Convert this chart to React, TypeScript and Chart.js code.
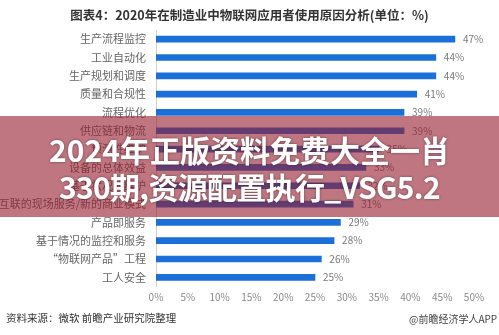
import React, { useEffect, useRef } from "react";
import { Chart, registerables } from "chart.js";

Chart.register(...registerables);

const categories = [
  "生产流程监控",
  "工业自动化",
  "生产规划和调度",
  "质量和合规性",
  "流程优化",
  "供应链和物流",
  "预测性维护",
  "设备的总体效益",
  "基于状况的维护",
  "互联的现场服务/新的商业模式",
  "产品即服务",
  "基于情况的监控和服务",
  "“物联网产品”工程",
  "工人安全",
];
const values = [47, 44, 44, 41, 39, 39, 35, 33, 32, 31, 29, 28, 26, 25];
const xTicks = [0, 5, 10, 15, 20, 25, 30, 35, 40, 45, 50];

const titleText = "图表4：2020年在制造业中物联网应用者使用原因分析(单位：%)";
const sourceText = "资料来源：微软 前瞻产业研究院整理";
const creditText = "@前瞻经济学人APP";
const bannerLine1 = "2024年正版资料免费大全一肖";
const bannerLine2 = "330期,资源配置执行_VSG5.2";

const FONT = "'Noto Sans CJK SC', 'Noto Sans', sans-serif";

const valueLabelPlugin = {
  id: "valueLabels",
  afterDatasetsDraw(chart: any) {
    const ctx = chart.ctx;
    const meta = chart.getDatasetMeta(0);
    ctx.save();
    ctx.font = `10px ${FONT}`;
    ctx.fillStyle = "#7a7a7a";
    ctx.textAlign = "left";
    ctx.textBaseline = "middle";
    meta.data.forEach((bar: any, i: number) => {
      ctx.fillText(`${values[i]}%`, bar.x + 8, bar.y);
    });
    ctx.restore();
  },
};

export default function App() {
  const ref = useRef<HTMLCanvasElement>(null);

  useEffect(() => {
    document.body.style.margin = "0";
    const chart = new Chart(ref.current!, {
      type: "bar",
      data: {
        labels: categories,
        datasets: [
          {
            data: values,
            backgroundColor: "#1b6fd8",
            barThickness: 6,
          },
        ],
      },
      options: {
        indexAxis: "y",
        animation: false,
        responsive: false,
        maintainAspectRatio: false,
        layout: { padding: { top: 30, right: 25, left: 0, bottom: 0 } },
        plugins: {
          legend: { display: false },
          tooltip: { enabled: false },
        },
        scales: {
          x: {
            min: 0,
            max: 50,
            afterBuildTicks(scale: any) {
              scale.ticks = xTicks.map((v) => ({ value: v }));
            },
            afterFit(scale: any) {
              scale.height = 48.5;
            },
            grid: { display: false, drawTicks: false },
            border: { display: false },
            ticks: {
              padding: 5,
              color: "#8a8a8a",
              font: { size: 10, family: FONT },
              callback: (v: any) => `${v}%`,
            },
          },
          y: {
            afterFit(scale: any) {
              scale.width = 156;
            },
            grid: { display: false, drawTicks: false },
            border: { display: true, color: "#d0d0d0", width: 1 },
            ticks: {
              padding: 10,
              color: "#666666",
              font: { size: 11, family: FONT },
              autoSkip: false,
            },
          },
        },
      },
      plugins: [valueLabelPlugin],
    });
    return () => chart.destroy();
  }, []);

  return (
    <div
      style={{
        position: "relative",
        width: 499,
        height: 335,
        background: "#ffffff",
        overflow: "hidden",
        fontFamily: FONT,
      }}
    >
      <canvas
        ref={ref}
        width={499}
        height={335}
        style={{ position: "absolute", left: 0, top: 0, width: 499, height: 335 }}
      />
      <div
        style={{
          position: "absolute",
          left: 0,
          width: 499,
          top: 6,
          textAlign: "center",
          fontSize: 12.5,
          fontWeight: 700,
          color: "#333333",
          lineHeight: "18px",
          whiteSpace: "nowrap",
        }}
      >
        {titleText}
      </div>
      <div
        style={{
          position: "absolute",
          left: 6,
          top: 310,
          fontSize: 10.5,
          color: "#333333",
          lineHeight: "16px",
          whiteSpace: "nowrap",
        }}
      >
        {sourceText}
      </div>
      <div
        style={{
          position: "absolute",
          left: 409,
          top: 311,
          fontSize: 10,
          color: "#444444",
          lineHeight: "16px",
          whiteSpace: "nowrap",
        }}
      >
        {creditText}
      </div>
      <div
        style={{
          position: "absolute",
          left: 0,
          top: 116,
          width: 499,
          height: 101,
          background: "rgba(150, 27, 43, 0.6)",
        }}
      />
      <div
        style={{
          position: "absolute",
          left: 0,
          width: 499,
          top: 129,
          textAlign: "center",
          fontSize: 30,
          fontWeight: 700,
          color: "#ffffff",
          lineHeight: "40px",
          whiteSpace: "nowrap",
          textShadow: "0 0 3px rgba(0,0,0,0.45)",
        }}
      >
        {bannerLine1}
      </div>
      <div
        style={{
          position: "absolute",
          left: 0,
          width: 499,
          top: 166,
          textAlign: "center",
          fontSize: 30,
          fontWeight: 700,
          color: "#ffffff",
          lineHeight: "40px",
          letterSpacing: "-0.7px",
          whiteSpace: "nowrap",
          textShadow: "0 0 3px rgba(0,0,0,0.45)",
        }}
      >
        {bannerLine2}
      </div>
    </div>
  );
}
